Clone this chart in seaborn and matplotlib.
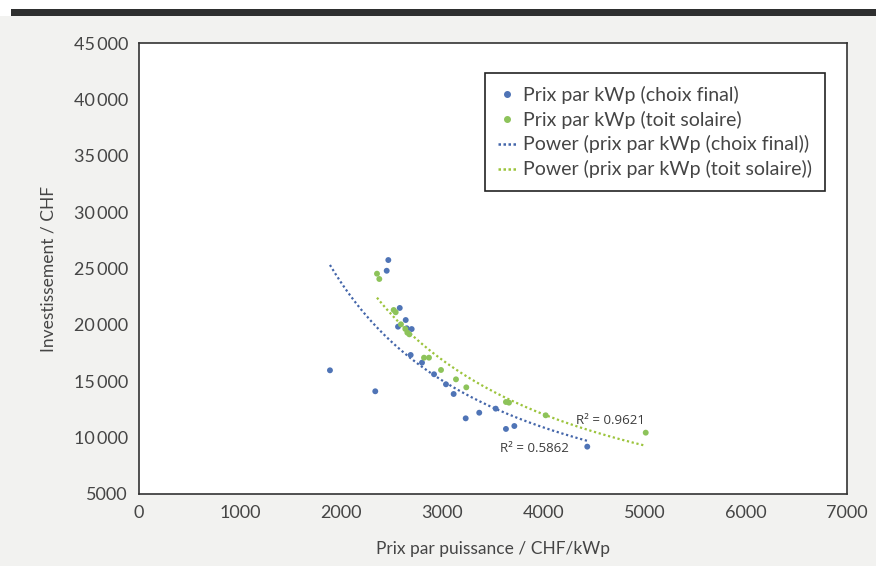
import numpy as np
import pandas as pd
import matplotlib
matplotlib.use("Agg")
import matplotlib.pyplot as plt
from matplotlib.patches import Rectangle
from matplotlib.ticker import FuncFormatter
from matplotlib.lines import Line2D
import seaborn as sns

# ---- data ----
final_x = [2465, 2449, 2578, 2637, 2561, 2647, 2696, 2686, 2798, 2917, 3035, 3111,
           3230, 3364, 3527, 1888, 2336, 3628, 3711, 4432]
final_y = [25750, 24800, 21500, 20430, 19840, 19700, 19630, 17330, 16650, 15620, 14730, 13870,
           11710, 12210, 12570, 15970, 14110, 10770, 11030, 9200]
toit_x = [2353, 2376, 2518, 2538, 2590, 2633, 2653, 2673, 2818, 2867, 2986, 3134,
          3236, 3628, 3658, 4021, 5010]
toit_y = [24540, 24070, 21320, 21120, 20050, 19640, 19310, 19160, 17090, 17090, 16000, 15170,
          14460, 13160, 13100, 11980, 10440]
series_names = ["Prix par kWp (choix final)", "Prix par kWp (toit solaire)"]
trend_names = ["Power (prix par kWp (choix final))", "Power (prix par kWp (toit solaire))"]
r2_labels = ["R\u00b2 = 0.5862", "R\u00b2 = 0.9621"]
x_ticks = [0, 1000, 2000, 3000, 4000, 5000, 6000, 7000]
y_ticks = [5000, 10000, 15000, 20000, 25000, 30000, 35000, 40000, 45000]
x_label = "Prix par puissance / CHF/kWp"
y_label = "Investissement / CHF"

blue = "#4f74b6"
green = "#8dc35a"
blue_line = "#4466aa"
green_line = "#9cc43c"
text_col = "#454545"

sns.set_theme(style="white")
plt.rcParams["font.family"] = ["Lato", "DejaVu Sans"]

fig = plt.figure(figsize=(8.76, 5.66), dpi=100, facecolor="white")
fig.patches.append(Rectangle((0, 0), 1, 1 - 16 / 566, transform=fig.transFigure,
                             facecolor="#f2f2f0", edgecolor="none", zorder=-10))
fig.patches.append(Rectangle((11 / 876, 1 - 16 / 566), 1 - 11 / 876, 7 / 566,
                             transform=fig.transFigure, facecolor="#2e2f2f",
                             edgecolor="none", zorder=-9))

ax = fig.add_axes([139 / 876, 1 - 494 / 566, (847 - 139) / 876, (494 - 43) / 566])
ax.set_facecolor("white")

df = pd.concat([
    pd.DataFrame({"x": final_x, "y": final_y, "serie": series_names[0]}),
    pd.DataFrame({"x": toit_x, "y": toit_y, "serie": series_names[1]}),
], ignore_index=True)

sns.scatterplot(data=df, x="x", y="y", hue="serie", palette=[blue, green],
                s=18, edgecolor="none", ax=ax, legend=False, zorder=3)

for xs, ys, col in [(final_x, final_y, blue_line), (toit_x, toit_y, green_line)]:
    xs = np.asarray(xs, float)
    ys = np.asarray(ys, float)
    b, la = np.polyfit(np.log(xs), np.log(ys), 1)
    xx = np.linspace(xs.min(), xs.max(), 200)
    yy = np.exp(la) * xx ** b
    sns.lineplot(x=xx, y=yy, color=col, linestyle=(0, (1, 1.2)), linewidth=1.6,
                 ax=ax, zorder=2)

fig.text(500 / 876, 1 - 448 / 566, r2_labels[0], fontsize=9.5, color="#3c3c3c",
         family=["Open Sans", "DejaVu Sans"], va="center", ha="left")
fig.text(576 / 876, 1 - 420 / 566, r2_labels[1], fontsize=9.5, color="#3c3c3c",
         family=["Open Sans", "DejaVu Sans"], va="center", ha="left")

ax.set_xlim(0, 7000)
ax.set_ylim(5000, 45000)
ax.set_xticks(x_ticks)
ax.set_yticks(y_ticks)


def fmt(v, pos):
    v = int(round(v))
    if v >= 10000:
        return f"{v:,}".replace(",", "\u2009")
    return str(v)


ax.yaxis.set_major_formatter(FuncFormatter(fmt))
ax.tick_params(axis="both", length=0, labelsize=13, colors=text_col, pad=8)
ax.set_xlabel(x_label, fontsize=12.5, color=text_col, labelpad=14)
ax.set_ylabel(y_label, fontsize=12.5, color=text_col, labelpad=12)
for sp in ax.spines.values():
    sp.set_visible(True)
    sp.set_color("#333333")
    sp.set_linewidth(1.2)
ax.grid(False)

leg_handles = [
    Line2D([], [], marker="o", linestyle="none", color=blue, markersize=4),
    Line2D([], [], marker="o", linestyle="none", color=green, markersize=4),
    Line2D([], [], color=blue_line, linestyle=(0, (1, 1.0)), linewidth=1.8),
    Line2D([], [], color=green_line, linestyle=(0, (1, 1.0)), linewidth=1.8),
]
leg = ax.legend(leg_handles, series_names + trend_names, loc="upper left",
                bbox_to_anchor=((485 - 139) / 708, 1 - (73 - 43) / 451),
                borderaxespad=0, frameon=True, fancybox=False, edgecolor="#222222",
                framealpha=1, handlelength=1.0, handletextpad=0.3,
                labelspacing=0.35, borderpad=0.65,
                prop={"family": ["Lato", "DejaVu Sans"], "size": 14})
leg.get_frame().set_linewidth(1.2)
for t in leg.get_texts():
    t.set_color(text_col)

fig.savefig("out.png", dpi=100, facecolor=fig.get_facecolor())
